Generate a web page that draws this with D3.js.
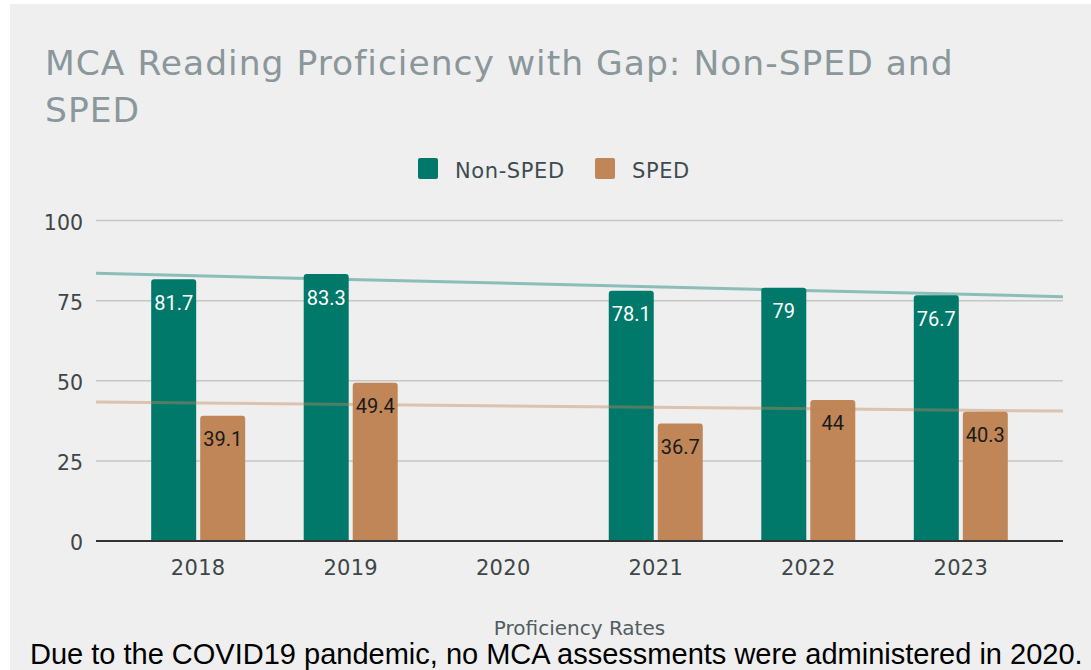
<!DOCTYPE html>
<html>
<head>
<meta charset="utf-8">
<script src="https://cdn.jsdelivr.net/npm/d3@7"></script>
<style>
  html, body { margin: 0; padding: 0; background: #ffffff; }
  svg { display: block; }
</style>
</head>
<body>
<div id="chart"></div>
<script>
// ---- Data ----
const years = ["2018", "2019", "2020", "2021", "2022", "2023"];
const nonSped = [81.7, 83.3, null, 78.1, 79, 76.7];
const sped = [39.1, 49.4, null, 36.7, 44, 40.3];
const seriesNames = ["Non-SPED", "SPED"];
const seriesColors = ["#00796b", "#c08657"];
const labelColors = ["#ffffff", "#1a1a1a"];
const yTicks = [0, 25, 50, 75, 100];
const titleLines = ["MCA Reading Proficiency with Gap: Non-SPED and", "SPED"];
const xAxisTitle = "Proficiency Rates";
const footnote = "Due to the COVID19 pandemic, no MCA assessments were administered in 2020.";

const seriesData = [nonSped, sped];

// ---- Layout ----
const W = 1091, H = 670;
const plot = { left: 96, right: 1063, top: 220.5, bottom: 541 };

const svg = d3.select("#chart").append("svg")
  .attr("width", W).attr("height", H);

svg.append("rect").attr("x", 10).attr("y", 4)
  .attr("width", W - 10).attr("height", H - 4)
  .attr("fill", "#efefef");

// Title
const title = svg.append("text")
  .attr("font-family", "DejaVu Sans")
  .attr("font-size", 34.5)
  .attr("letter-spacing", 1.0)
  .attr("fill", "#8a979b");
titleLines.forEach((t, i) => {
  title.append("tspan").attr("x", 45).attr("y", 75 + i * 46.5).text(t);
});

// Legend
const legendItems = [
  { name: seriesNames[0], color: seriesColors[0], x: 418 },
  { name: seriesNames[1], color: seriesColors[1], x: 595 }
];
const lg = svg.append("g");
legendItems.forEach(d => {
  lg.append("rect").attr("x", d.x).attr("y", 158).attr("width", 20).attr("height", 21)
    .attr("rx", 2).attr("fill", d.color);
  lg.append("text").attr("x", d.x + 37).attr("y", 178)
    .attr("font-family", "DejaVu Sans").attr("font-size", 21)
    .attr("letter-spacing", 0.6)
    .attr("fill", "#3e4b50").text(d.name);
});

// Scales
const x0 = d3.scaleBand().domain(years)
  .range([plot.left, plot.right]).paddingInner(0).paddingOuter(0.17);
const x1 = d3.scaleBand().domain(seriesNames)
  .range([0, x0.bandwidth()]).paddingInner(0.082).paddingOuter(0.597);
const y = d3.scaleLinear().domain([0, 100]).range([plot.bottom, plot.top]);

// Gridlines
svg.append("g").selectAll("line").data(yTicks.filter(t => t !== 0)).join("line")
  .attr("x1", plot.left).attr("x2", plot.right)
  .attr("y1", d => y(d)).attr("y2", d => y(d))
  .attr("stroke", "#c6c6c6").attr("stroke-width", 1.5);

// Y axis labels
const yAxis = d3.axisLeft(y).tickValues(yTicks).tickSize(0).tickPadding(13);
const yg = svg.append("g").attr("transform", `translate(${plot.left},0)`).call(yAxis);
yg.select(".domain").remove();
yg.selectAll("text").attr("font-family", "DejaVu Sans").attr("font-size", 20.5)
  .attr("fill", "#3e4648").attr("dy", "0.42em");

// Bars
function topRoundedRect(x, yTop, w, h, r) {
  r = Math.min(r, h, w / 2);
  return `M${x},${yTop + h}V${yTop + r}Q${x},${yTop} ${x + r},${yTop}H${x + w - r}Q${x + w},${yTop} ${x + w},${yTop + r}V${yTop + h}Z`;
}

const barData = [];
years.forEach((yr, i) => {
  seriesNames.forEach((s, j) => {
    const v = seriesData[j][i];
    if (v !== null) barData.push({ year: yr, series: s, j, value: v });
  });
});

svg.append("g").selectAll("path").data(barData).join("path")
  .attr("d", d => topRoundedRect(x0(d.year) + x1(d.series), y(d.value),
    x1.bandwidth(), y(0) - y(d.value), 3))
  .attr("fill", d => seriesColors[d.j]);

// Baseline
svg.append("line").attr("x1", plot.left).attr("x2", plot.right)
  .attr("y1", y(0)).attr("y2", y(0))
  .attr("stroke", "#333333").attr("stroke-width", 2);

// Trendlines (linear least squares fit on year index)
const idxToPx = d3.scaleLinear().domain([0, years.length - 1])
  .range([x0(years[0]) + x0.bandwidth() / 2, x0(years[years.length - 1]) + x0.bandwidth() / 2]);
seriesData.forEach((vals, j) => {
  const pts = vals.map((v, i) => [i, v]).filter(p => p[1] !== null);
  const mx = d3.mean(pts, p => p[0]), my = d3.mean(pts, p => p[1]);
  const sxy = d3.sum(pts, p => (p[0] - mx) * (p[1] - my));
  const sxx = d3.sum(pts, p => (p[0] - mx) ** 2);
  const slope = sxy / sxx, icpt = my - slope * mx;
  const i0 = idxToPx.invert(plot.left), i1 = idxToPx.invert(plot.right);
  const line = d3.line().x(d => idxToPx(d)).y(d => y(icpt + slope * d));
  svg.append("path").attr("d", line([i0, i1]))
    .attr("stroke", seriesColors[j]).attr("stroke-opacity", 0.42)
    .attr("stroke-width", 3).attr("fill", "none");
});

// Bar labels
svg.append("g").selectAll("text").data(barData).join("text")
  .attr("x", d => x0(d.year) + x1(d.series) + x1.bandwidth() / 2)
  .attr("y", d => y(d.value) + 30.5)
  .attr("text-anchor", "middle")
  .attr("font-family", "Roboto").attr("font-size", 20)
  .attr("fill", d => labelColors[d.j])
  .text(d => d3.format("")(d.value));

// X axis labels
const xAxis = d3.axisBottom(x0).tickSize(0).tickPadding(19);
const xg = svg.append("g").attr("transform", `translate(0,${plot.bottom})`).call(xAxis);
xg.select(".domain").remove();
xg.selectAll("text").attr("font-family", "DejaVu Sans").attr("font-size", 21)
  .attr("letter-spacing", 0.3)
  .attr("fill", "#3e4648");

// X axis title
svg.append("text").attr("x", (plot.left + plot.right) / 2).attr("y", 635)
  .attr("text-anchor", "middle").attr("font-family", "DejaVu Sans").attr("font-size", 20)
  .attr("fill", "#535d61").text(xAxisTitle);

// Footnote
svg.append("text").attr("x", 30).attr("y", 664)
  .attr("font-family", "Liberation Sans, Arial").attr("font-size", 29)
  .attr("fill", "#000000").text(footnote);
</script>
</body>
</html>
